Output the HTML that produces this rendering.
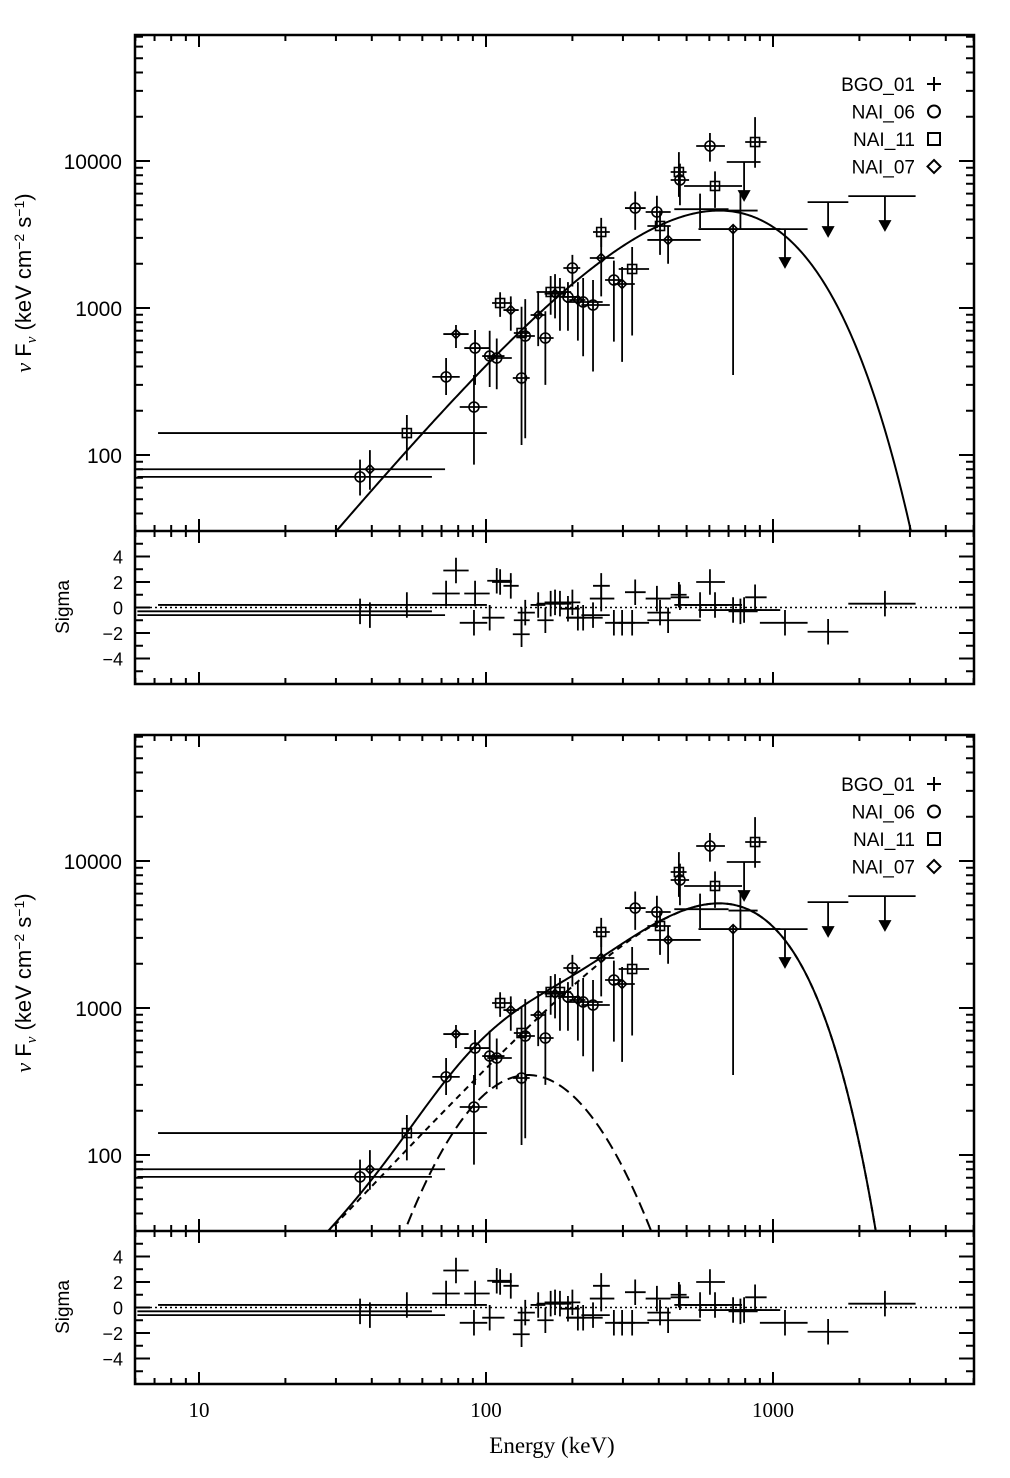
<!DOCTYPE html>
<html><head><meta charset="utf-8">
<style>
html,body{margin:0;padding:0;background:#fff;}
svg{display:block;font-family:"Liberation Sans",sans-serif;}
</style></head>
<body>
<svg id="chart" width="1010" height="1478" viewBox="0 0 1010 1478" xmlns="http://www.w3.org/2000/svg">
<defs>
<clipPath id="clipTop"><rect x="135" y="35" width="839" height="496"/></clipPath>
<clipPath id="clipBot"><rect x="135" y="735" width="839" height="496"/></clipPath>
</defs>
<g id="root"></g>
</svg>
<script>
// ---- data (energy keV, flux keV cm^-2 s^-1) ----
const energy = [36.4,39.4,53,72.6,78.6,90.8,91.6,103,109,112,122,133,133,137,152,161,168,174,181,193,200,209,218,236,252,252,279,298,323,331,394,404,431,470,474,603,628,726,866,557,770];
const eLo    = [6.1,6.1,7.2,65,71,81,84,97,101,105,115,125,124,129,143,151,150,160,165,181,186,195,190,215,236,230,260,278,290,305,360,365,365,440,440,540,490,550,800,453,700];
const eHi    = [64.8,72,100.7,81,87,101,103,116,123,123,130,142,142,148,161,172,188,190,198,212,213,222,255,270,270,280,300,330,370,360,440,440,560,500,510,680,780,1060,950,700,884];
const flux   = [71,80,141,340,665,212,534,471,457,1081,968,676,334,645,896,625,1285,1250,1285,1189,1871,1133,1099,1048,3289,2188,1550,1456,1842,4786,4498,3614,2904,8414,7430,12650,6761,3443,13460,4700,4600];
const fLo    = [53,58,92,256,534,86,300,290,280,870,700,300,117,130,550,300,900,850,700,700,1400,600,470,370,2600,1200,590,430,650,3400,3500,2300,2000,5700,5000,9900,4800,350,9000,3500,3400];
const fHi    = [93,108,187,457,766,350,708,700,620,1280,1200,1020,690,1150,1300,950,1650,1700,1600,1500,2300,1500,1600,1550,4100,3000,2100,1900,2600,6200,5800,4600,3600,11500,9600,15500,8500,3670,19900,6000,6200];
const detector = ["c","d","s","c","d","c","c","c","c","s","d","s","c","c","d","c","s","d","s","c","c","d","c","c","s","d","c","d","s","c","c","s","d","s","c","c","s","d","s","b","b"];
const sigma  = [-0.3,-0.6,0.2,1.1,2.9,-1.2,1.1,-0.8,2.1,2.0,1.7,-1.0,-2.1,-0.4,0.2,-1.0,0.3,0.4,0.3,-0.1,0.4,-0.8,-0.8,-0.6,1.7,0.7,-1.2,-1.2,-1.2,1.2,0.7,-0.4,-1.0,1.0,0.8,2.0,0.2,-0.2,0.8,0.2,-0.3];
// upper limits (BGO)
const ulEnergy = [793,1101,1556,2455];
const ulLo     = [690,900,1320,1830];
const ulHi     = [905,1320,1830,3140];
const ulFlux   = [9840,3440,5250,5770];
const ulTip    = [5430,1900,3090,3390];
const ulSigma  = [-0.2,-1.2,-1.9,0.3];
// tick values
const xMajor = [10,100,1000];
const xMajorLabels = ["10","100","1000"];
const yMajor = [100,1000,10000];
const yMajorLabels = ["100","1000","10000"];
const sMajor = [4,2,0,-2,-4];
const sMajorLabels = ["4","2","0","\u22122","\u22124"];
const legendLabels = ["BGO_01","NAI_06","NAI_11","NAI_07"];
const legendKeys = ["b","c","s","d"];

const NS="http://www.w3.org/2000/svg";
const root=document.getElementById('root');
function mk(tag,attrs,parent){const e=document.createElementNS(NS,tag);for(const k in attrs)e.setAttribute(k,attrs[k]);(parent||root).appendChild(e);return e;}

const X0=135,X1=974;
function xE(E){return 199+287*(Math.log10(E)-1);}
function yF(F,off){return 161+147*(4-Math.log10(F))+off;}
function yS(s,off){return 607.5-12.75*s+off;}

function drawPanel(off, idx){
  const g=mk('g',{});
  
  
  const top=35+off, sep=531+off, bot=684+off;
  const fr=mk('rect',{x:X0,y:top,width:X1-X0,height:bot-top,fill:'none',stroke:'#000','stroke-width':2.5},g);
  
  
  const sl=mk('line',{x1:X0,x2:X1,y1:sep,y2:sep,stroke:'#000','stroke-width':2.5},g);
  
  
  let tp='';
  for(let d=1;d<=1000;d*=10){for(let m=1;m<10;m++){const E=d*m;if(E<6||E>5000)continue;const x=xE(E);const L=(m===1)?12:6;
    tp+=`M${x},${top}v${L}M${x},${sep-L}v${2*L}M${x},${bot}v${-L}`;}}
  for(let d=10;d<=10000;d*=10){for(let m=1;m<10;m++){const F=d*m;if(F<30.4||F>72000)continue;const y=yF(F,off);const L=(m===1)?15:8;
    tp+=`M${X0},${y}h${L}M${X1},${y}h${-L}`;}}
  for(let s=-5;s<=5;s++){const y=yS(s,off);const L=(s%2===0)?15:8;tp+=`M${X0},${y}h${L}M${X1},${y}h${-L}`;}
  const tk=mk('path',{d:tp,stroke:'#000','stroke-width':2,fill:'none'},g);
  
  
  yMajor.forEach((v,i)=>{const t=mk('text',{x:122,y:yF(v,off)+8,'text-anchor':'end','font-size':21},g);t.textContent=yMajorLabels[i];
    
    });
  sMajor.forEach((v,i)=>{const t=mk('text',{x:123,y:yS(v,off)+7,'text-anchor':'end','font-size':18},g);t.textContent=sMajorLabels[i];
    
    });
  const yt=mk('text',{transform:`translate(31,${283+off}) rotate(-90)`,'text-anchor':'middle','font-size':22},g);
  yt.innerHTML='<tspan font-family="Liberation Serif" font-style="italic">ν</tspan> F<tspan font-size="15" dy="5" font-family="Liberation Serif" font-style="italic">ν</tspan><tspan dy="-5"> (keV cm</tspan><tspan font-size="14" dy="-7">−2</tspan><tspan dy="7"> s</tspan><tspan font-size="14" dy="-7">−1</tspan><tspan dy="7">)</tspan>';
  
  
  const st=mk('text',{transform:`translate(69,${607+off}) rotate(-90)`,'text-anchor':'middle','font-size':19},g);st.textContent='Sigma';
  
  
  const z=mk('line',{x1:X0,x2:X1,y1:yS(0,off),y2:yS(0,off),stroke:'#000','stroke-width':1.6,'stroke-dasharray':'2,3'},g);
  
  
  legendLabels.forEach((lb,i)=>{const y=84+i*27.5+off;
    const t=mk('text',{x:915,y:y+7,'text-anchor':'end','font-size':19},g);t.textContent=lb;
    
    
    const m=marker(legendKeys[i],934,y,g,true);
    
    });
  const dg=mk('g',{stroke:'#000','stroke-width':1.8,fill:'none'},g);
  
  
  energy.forEach((E,i)=>{
    const x=xE(E),y=yF(flux[i],off);
    const p=mk('path',{d:`M${xE(eLo[i])},${y}H${xE(eHi[i])}M${x},${yF(fHi[i],off)}V${yF(fLo[i],off)}`},dg);
    
    
    if(detector[i]!=='b'){const m=marker(detector[i],x,y,dg,false);
      
      }
    const ys=yS(sigma[i],off);
    const r=mk('path',{d:`M${xE(eLo[i])},${ys}H${xE(eHi[i])}M${x},${yS(sigma[i]+1,off)}V${yS(sigma[i]-1,off)}`},dg);
    
    
  });
  ulEnergy.forEach((E,i)=>{
    const x=xE(E),y=yF(ulFlux[i],off),yt2=yF(ulTip[i],off);
    const p=mk('path',{d:`M${xE(ulLo[i])},${y}H${xE(ulHi[i])}M${x},${y}V${yt2-8}`},dg);
    
    
    const a=mk('path',{d:`M${x-5},${yt2-9}L${x+5},${yt2-9}L${x},${yt2}Z`,fill:'#000'},dg);
    
    
    const ys=yS(ulSigma[i],off);
    const r=mk('path',{d:`M${xE(ulLo[i])},${ys}H${xE(ulHi[i])}M${x},${yS(ulSigma[i]+1,off)}V${yS(ulSigma[i]-1,off)}`},dg);
    
    
  });
  return g;
}
function marker(k,x,y,parent,legend){
  const sw=legend?2:1.6;
  if(k==='c') return mk('circle',{cx:x,cy:y,r:legend?6:5,fill:'none',stroke:'#000','stroke-width':sw},parent);
  if(k==='s'){const h=legend?6:4.5;return mk('rect',{x:x-h,y:y-h,width:2*h,height:2*h,fill:'none',stroke:'#000','stroke-width':sw},parent);}
  if(k==='d'){const h=legend?6.5:4.5;return mk('path',{d:`M${x},${y-h}L${x+h},${y}L${x},${y+h}L${x-h},${y}Z`,fill:'none',stroke:'#000','stroke-width':sw},parent);}
  return mk('path',{d:`M${x-7},${y}H${x+7}M${x},${y-7}V${y+7}`,stroke:'#000','stroke-width':2},parent);
}

function cpl(E,peak,Ep,s,Ec,b){const f=e=>Math.pow(e,s)*Math.exp(-Math.pow(e/Ec,b));return peak*f(E)/f(Ep);}
function topModel(E){return cpl(E,4600,650,2.37,274,1);}
function ntModel(E){return cpl(E,5150,650,2.08,522,1.5);}
function bbModel(E){const l=Math.log(E/140);return 350*Math.exp(-l*l/0.4);}
function curve(fn,off,clip,dash,name,w){
  let d='';for(let i=0;i<=600;i++){const E=Math.pow(10,0.78+i*(3.70-0.78)/600);const F=fn(E);if(F<5)continue;
    d+=(d?'L':'M')+xE(E).toFixed(2)+','+yF(F,off).toFixed(2);}
  const p=mk('path',{d:d,fill:'none',stroke:'#000','stroke-width':w||2,'clip-path':`url(#${clip})`});
  if(dash)p.setAttribute('stroke-dasharray',dash);
  
  
}
drawPanel(0,'top');
drawPanel(700,'bottom');
curve(topModel,0,'clipTop',null,'model-curve-top',2);
curve(E=>ntModel(E)+bbModel(E),700,'clipBot',null,'model-total-bottom',2);
curve(ntModel,700,'clipBot','6,5','nonthermal-component',2);
curve(bbModel,700,'clipBot','12,6','blackbody-component',2);

xMajor.forEach((v,i)=>{const t=mk('text',{x:xE(v),y:1417,'text-anchor':'middle','font-size':21,'font-family':'Liberation Serif, serif'});t.textContent=xMajorLabels[i];
  
  });
const xt=mk('text',{x:552,y:1453,'text-anchor':'middle','font-size':23,'font-family':'Liberation Serif, serif'});xt.textContent='Energy (keV)';


</script>
</body></html>
